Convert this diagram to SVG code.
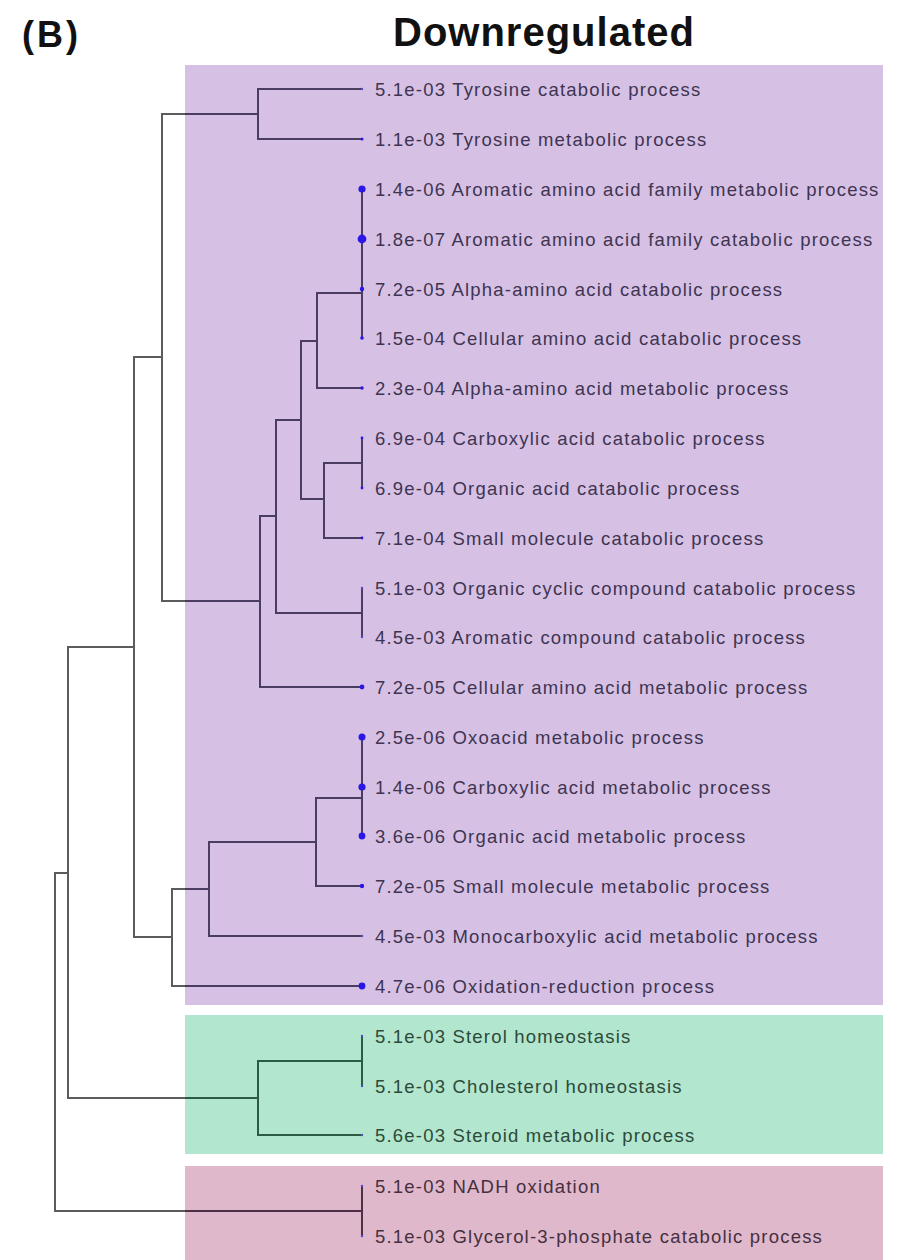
<svg xmlns="http://www.w3.org/2000/svg" width="901" height="1260" viewBox="0 0 901 1260">
<style>
.bg{fill:#ffffff}
.bp{fill:#d6c1e4}
.bgn{fill:#b2e6ce}
.br{fill:#e0b8cc}
.title{font-family:"Liberation Sans",Arial,sans-serif;font-weight:bold;fill:#111}
.lbl{font-family:"Liberation Sans",Arial,sans-serif;font-size:18.5px;letter-spacing:1.2px}
.tp{fill:#3e3452}
.tg{fill:#2c4a3a}
.tr{fill:#45303e}
.c line{stroke-width:2;stroke-linecap:square;fill:none}
.lo{stroke:#5c5c5c}
.lp{stroke:#4b3d62}
.lg{stroke:#2c5a44}
.lr{stroke:#4e2f48}
.d{fill:#2a16e6}
.ds{fill:#5448c8}
</style>
<rect class="bg" x="0" y="0" width="901" height="1260"/>
<g id="group-purple"><rect class="bp" x="185" y="65" width="698" height="940"/></g>
<g id="group-green"><rect class="bgn" x="185" y="1015" width="698" height="139"/></g>
<g id="group-red"><rect class="br" x="185" y="1166" width="698" height="94"/></g>
<text id="panel-label" class="title" x="22" y="47" font-size="36" letter-spacing="3">(B)</text>
<text id="title" class="title" x="393" y="46" font-size="40" letter-spacing="1">Downregulated</text>
<g id="connectors" class="c">
<!-- tyrosine -->
<line class="lp" x1="258" y1="89" x2="258" y2="139"/>
<line class="lp" x1="258" y1="89" x2="360" y2="89"/>
<line class="lp" x1="258" y1="139" x2="360" y2="139"/>
<line class="lo" x1="162" y1="114" x2="185" y2="114"/>
<line class="lp" x1="186" y1="114" x2="258" y2="114"/>
<line class="lo" x1="162" y1="114" x2="162" y2="601"/>
<line class="lo" x1="134" y1="357" x2="162" y2="357"/>
<!-- amino acid catabolic cluster -->
<line class="lp" x1="362" y1="189" x2="362" y2="338"/>
<line class="lp" x1="317" y1="293" x2="362" y2="293"/>
<line class="lp" x1="317" y1="293" x2="317" y2="388"/>
<line class="lp" x1="317" y1="388" x2="360" y2="388"/>
<line class="lp" x1="301" y1="341" x2="317" y2="341"/>
<line class="lp" x1="301" y1="341" x2="301" y2="499"/>
<line class="lp" x1="301" y1="499" x2="324" y2="499"/>
<line class="lp" x1="324" y1="463" x2="324" y2="538"/>
<line class="lp" x1="324" y1="463" x2="362" y2="463"/>
<line class="lp" x1="362" y1="438" x2="362" y2="488"/>
<line class="lp" x1="324" y1="538" x2="360" y2="538"/>
<line class="lp" x1="276" y1="420" x2="301" y2="420"/>
<line class="lp" x1="276" y1="420" x2="276" y2="613"/>
<line class="lp" x1="276" y1="613" x2="362" y2="613"/>
<line class="lp" x1="362" y1="588" x2="362" y2="637"/>
<line class="lp" x1="260" y1="516" x2="276" y2="516"/>
<line class="lp" x1="260" y1="516" x2="260" y2="687"/>
<line class="lp" x1="260" y1="687" x2="360" y2="687"/>
<line class="lo" x1="162" y1="601" x2="185" y2="601"/>
<line class="lp" x1="186" y1="601" x2="260" y2="601"/>
<!-- node 134 -->
<line class="lo" x1="134" y1="357" x2="134" y2="937"/>
<line class="lo" x1="68" y1="647" x2="134" y2="647"/>
<line class="lo" x1="134" y1="937" x2="172" y2="937"/>
<!-- metabolic cluster -->
<line class="lo" x1="172" y1="889" x2="172" y2="986"/>
<line class="lo" x1="172" y1="889" x2="185" y2="889"/>
<line class="lp" x1="186" y1="889" x2="209" y2="889"/>
<line class="lo" x1="172" y1="986" x2="185" y2="986"/>
<line class="lp" x1="186" y1="986" x2="360" y2="986"/>
<line class="lp" x1="209" y1="842" x2="209" y2="936"/>
<line class="lp" x1="209" y1="842" x2="316" y2="842"/>
<line class="lp" x1="209" y1="936" x2="360" y2="936"/>
<line class="lp" x1="316" y1="798" x2="316" y2="886"/>
<line class="lp" x1="316" y1="798" x2="362" y2="798"/>
<line class="lp" x1="362" y1="737" x2="362" y2="836"/>
<line class="lp" x1="316" y1="886" x2="360" y2="886"/>
<!-- node 68 and green -->
<line class="lo" x1="68" y1="647" x2="68" y2="1098"/>
<line class="lo" x1="55" y1="873" x2="68" y2="873"/>
<line class="lo" x1="68" y1="1098" x2="185" y2="1098"/>
<line class="lg" x1="186" y1="1098" x2="258" y2="1098"/>
<line class="lg" x1="258" y1="1061" x2="258" y2="1135"/>
<line class="lg" x1="258" y1="1061" x2="362" y2="1061"/>
<line class="lg" x1="362" y1="1036" x2="362" y2="1086"/>
<line class="lg" x1="258" y1="1135" x2="360" y2="1135"/>
<!-- root and red -->
<line class="lo" x1="55" y1="873" x2="55" y2="1211"/>
<line class="lo" x1="55" y1="1211" x2="185" y2="1211"/>
<line class="lr" x1="186" y1="1211" x2="362" y2="1211"/>
<line class="lr" x1="362" y1="1186" x2="362" y2="1236"/>
</g>
<g id="leaf-tyrosine-catabolic"><circle class="ds" cx="362" cy="89" r="1.2"/><text class="lbl tp" x="375" y="96">5.1e-03 Tyrosine catabolic process</text></g>
<g id="leaf-tyrosine-metabolic"><circle class="d" cx="362" cy="139" r="1.5"/><text class="lbl tp" x="375" y="146">1.1e-03 Tyrosine metabolic process</text></g>
<g id="leaf-aromatic-aa-metabolic"><circle class="d" cx="362" cy="189" r="3.6"/><text class="lbl tp" x="375" y="196">1.4e-06 Aromatic amino acid family metabolic process</text></g>
<g id="leaf-aromatic-aa-catabolic"><circle class="d" cx="362" cy="239" r="4.4"/><text class="lbl tp" x="375" y="246">1.8e-07 Aromatic amino acid family catabolic process</text></g>
<g id="leaf-alpha-aa-catabolic"><circle class="d" cx="362" cy="289" r="2.2"/><text class="lbl tp" x="375" y="296">7.2e-05 Alpha-amino acid catabolic process</text></g>
<g id="leaf-cellular-aa-catabolic"><circle class="d" cx="362" cy="338" r="1.8"/><text class="lbl tp" x="375" y="345">1.5e-04 Cellular amino acid catabolic process</text></g>
<g id="leaf-alpha-aa-metabolic"><circle class="d" cx="362" cy="388" r="1.7"/><text class="lbl tp" x="375" y="395">2.3e-04 Alpha-amino acid metabolic process</text></g>
<g id="leaf-carboxylic-catabolic"><circle class="d" cx="362" cy="438" r="1.4"/><text class="lbl tp" x="375" y="445">6.9e-04 Carboxylic acid catabolic process</text></g>
<g id="leaf-organic-acid-catabolic"><circle class="d" cx="362" cy="488" r="1.4"/><text class="lbl tp" x="375" y="495">6.9e-04 Organic acid catabolic process</text></g>
<g id="leaf-small-molecule-catabolic"><circle class="d" cx="362" cy="538" r="1.4"/><text class="lbl tp" x="375" y="545">7.1e-04 Small molecule catabolic process</text></g>
<g id="leaf-organic-cyclic-catabolic"><circle class="ds" cx="362" cy="588" r="1.2"/><text class="lbl tp" x="375" y="595">5.1e-03 Organic cyclic compound catabolic process</text></g>
<g id="leaf-aromatic-compound-catabolic"><circle class="ds" cx="362" cy="637" r="1.2"/><text class="lbl tp" x="375" y="644">4.5e-03 Aromatic compound catabolic process</text></g>
<g id="leaf-cellular-aa-metabolic"><circle class="d" cx="362" cy="687" r="2.4"/><text class="lbl tp" x="375" y="694">7.2e-05 Cellular amino acid metabolic process</text></g>
<g id="leaf-oxoacid-metabolic"><circle class="d" cx="362" cy="737" r="3.5"/><text class="lbl tp" x="375" y="744">2.5e-06 Oxoacid metabolic process</text></g>
<g id="leaf-carboxylic-metabolic"><circle class="d" cx="362" cy="787" r="3.6"/><text class="lbl tp" x="375" y="794">1.4e-06 Carboxylic acid metabolic process</text></g>
<g id="leaf-organic-acid-metabolic"><circle class="d" cx="362" cy="836" r="3.4"/><text class="lbl tp" x="375" y="843">3.6e-06 Organic acid metabolic process</text></g>
<g id="leaf-small-molecule-metabolic"><circle class="d" cx="362" cy="886" r="2.2"/><text class="lbl tp" x="375" y="893">7.2e-05 Small molecule metabolic process</text></g>
<g id="leaf-monocarboxylic-metabolic"><circle class="ds" cx="362" cy="936" r="1.2"/><text class="lbl tp" x="375" y="943">4.5e-03 Monocarboxylic acid metabolic process</text></g>
<g id="leaf-oxidation-reduction"><circle class="d" cx="362" cy="986" r="3.4"/><text class="lbl tp" x="375" y="993">4.7e-06 Oxidation-reduction process</text></g>
<g id="leaf-sterol-homeostasis"><circle class="ds" cx="362" cy="1036" r="1.2"/><text class="lbl tg" x="375" y="1043">5.1e-03 Sterol homeostasis</text></g>
<g id="leaf-cholesterol-homeostasis"><circle class="ds" cx="362" cy="1086" r="1.2"/><text class="lbl tg" x="375" y="1093">5.1e-03 Cholesterol homeostasis</text></g>
<g id="leaf-steroid-metabolic"><circle class="ds" cx="362" cy="1135" r="1.2"/><text class="lbl tg" x="375" y="1142">5.6e-03 Steroid metabolic process</text></g>
<g id="leaf-nadh-oxidation"><circle class="ds" cx="362" cy="1186" r="1.2"/><text class="lbl tr" x="375" y="1193">5.1e-03 NADH oxidation</text></g>
<g id="leaf-glycerol-3-phosphate"><circle class="ds" cx="362" cy="1236" r="1.2"/><text class="lbl tr" x="375" y="1243">5.1e-03 Glycerol-3-phosphate catabolic process</text></g>
</svg>
